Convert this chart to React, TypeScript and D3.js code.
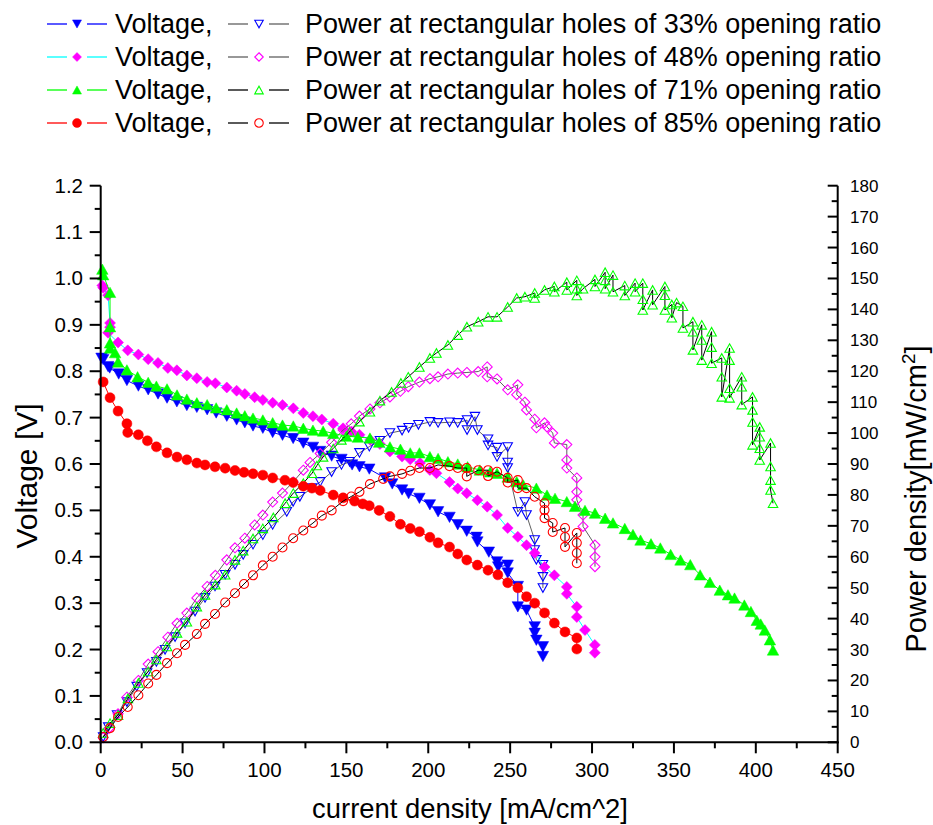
import React from "react";
import * as d3 from "d3";

type Pt = [number, number];

// Voltage (V) vs current density (mA/cm^2)
const V33: Pt[] = [[0.5,0.828],[1.5,0.825],[4.5,0.81],[5.5,0.807],[11,0.794],[16,0.78],[23,0.768],[29,0.76],[35,0.751],[40.5,0.742],[46.5,0.734],[52.6,0.726],[58.7,0.722],[65,0.717],[70.5,0.71],[77,0.703],[83,0.695],[88,0.689],[93,0.682],[99,0.677],[105,0.668],[111,0.662],[117.5,0.655],[123.7,0.645],[129.6,0.636],[134,0.627],[141,0.617],[147,0.61],[153.5,0.598],[158,0.594],[164,0.589],[173.6,0.57],[178,0.557],[184,0.544],[188,0.536],[194.6,0.526],[201,0.512],[206,0.497],[213,0.485],[218,0.469],[223.5,0.455],[229.5,0.442],[230,0.432],[237,0.41],[242,0.389],[242.7,0.378],[248.5,0.382],[248.5,0.365],[254.7,0.336],[254.7,0.292],[260,0.285],[265,0.249],[265,0.235],[266,0.22],[270,0.206],[270,0.185]];
const V48: Pt[] = [[1,0.985],[1.5,0.98],[4.5,0.964],[5.7,0.904],[5.7,0.895],[4.5,0.883],[10.6,0.862],[16.5,0.845],[23,0.836],[29,0.826],[35,0.818],[41,0.807],[46.5,0.802],[52.6,0.791],[58.7,0.785],[65,0.777],[70,0.774],[77,0.765],[83,0.758],[88,0.751],[94,0.744],[99,0.738],[105,0.732],[111,0.727],[117.6,0.72],[123.7,0.71],[129.6,0.703],[135,0.696],[142,0.687],[148,0.677],[153,0.67],[158,0.663],[164.6,0.652],[170.5,0.643],[176.6,0.627],[184,0.616],[189,0.61],[195,0.602],[201,0.587],[205,0.58],[213,0.561],[218,0.547],[223.5,0.537],[230,0.522],[236,0.508],[242,0.49],[248.5,0.462],[254.7,0.443],[260,0.425],[265,0.408],[271,0.378],[277,0.36],[284.6,0.335],[284.6,0.32],[290.7,0.292],[290.7,0.27],[295.7,0.242],[301.7,0.21],[301.7,0.193]];
const V71: Pt[] = [[1,1.02],[1.5,1.008],[5.7,0.97],[5.7,0.896],[5.7,0.861],[5.7,0.85],[8.8,0.84],[10.6,0.82],[16,0.803],[22.5,0.788],[29,0.776],[34,0.768],[40.5,0.762],[46.6,0.749],[52.6,0.74],[58.7,0.732],[65,0.728],[70.5,0.721],[77,0.717],[83,0.71],[88,0.704],[93,0.699],[99,0.695],[105,0.689],[111,0.684],[117.6,0.682],[123.7,0.677],[129.6,0.673],[135.8,0.671],[142,0.666],[150,0.66],[157,0.658],[164.4,0.656],[170,0.647],[176.6,0.637],[183,0.632],[189,0.624],[194.6,0.624],[201,0.616],[206,0.612],[212,0.605],[218,0.6],[224,0.594],[231.5,0.587],[237.8,0.583],[242,0.58],[248.5,0.572],[254,0.562],[258,0.555],[266,0.548],[272.5,0.533],[277.4,0.526],[284.6,0.519],[289.6,0.509],[295.7,0.5],[301.8,0.494],[308,0.483],[312.8,0.473],[320,0.461],[325,0.448],[329.6,0.436],[336,0.428],[341.7,0.419],[348,0.405],[354,0.393],[360,0.383],[366,0.361],[372,0.345],[378,0.328],[383,0.318],[387,0.311],[393,0.296],[397,0.282],[400.6,0.263],[403,0.255],[405.5,0.242],[408.6,0.221],[410.5,0.199]];
const V85: Pt[] = [[1.5,0.777],[5.7,0.743],[10.6,0.714],[16,0.687],[16.5,0.668],[23,0.663],[28.5,0.65],[34,0.637],[40.5,0.624],[46.6,0.615],[52.6,0.609],[58.7,0.602],[63.7,0.598],[69.8,0.594],[76,0.591],[82,0.586],[87.5,0.582],[93,0.579],[99,0.576],[105,0.57],[112.5,0.565],[117.5,0.56],[123.7,0.552],[129,0.548],[134,0.543],[142,0.533],[148,0.527],[155,0.52],[160,0.514],[164,0.51],[170,0.5],[176.6,0.487],[183,0.47],[189,0.461],[194.6,0.454],[201,0.442],[206,0.43],[213,0.421],[218,0.406],[223.5,0.393],[230,0.382],[236.5,0.371],[242.5,0.361],[248.5,0.344],[254.7,0.333],[260,0.314],[265,0.3],[271,0.279],[277,0.257],[283.5,0.238],[290.7,0.225],[290.7,0.201]];

// Power density (mW/cm^2) vs current density (mA/cm^2)
const P33: Pt[] = [[1.5,1.7],[4.6,4.9],[10,8.8],[16,13],[22,18],[28.3,22.4],[34,26],[39.3,29.9],[45.4,34],[51.5,38.5],[57.6,42.3],[63.7,46.7],[69.8,50.4],[76,54.2],[82,57.4],[87,60.6],[93,63.9],[99,67],[105,70.3],[113.6,74.5],[117.5,77.8],[121.6,79.4],[129,82.2],[134,84.2],[141,87.4],[147,89.7],[152,90.7],[158,93.6],[164,95.6],[170.5,97.5],[176.6,100],[184,100.8],[188,101.7],[194,102.7],[201,103.6],[206,103.3],[213,103.5],[218,103.3],[223.7,104.2],[223.7,101],[228.5,105.3],[230,101],[236.5,98],[236.5,96],[242,95.3],[242,92.3],[248.5,95.5],[248.5,90.5],[248.5,88.7],[254.7,74.5],[259,77.7],[260,73.5],[265,65.4],[265,62.2],[266,59],[270,57.4],[270,53.5],[270,49.9]];
const P48: Pt[] = [[1.5,1.5],[5,4.5],[10.6,9.2],[16,14.6],[23,20],[29,25.3],[35,29.3],[41,34],[46.6,38.5],[52.6,41.8],[58.7,46.7],[65,50.4],[70,54],[77,59],[82,62.9],[88,66],[94,70.3],[99,73.5],[105,77.7],[111,80.6],[117.5,84.2],[123.7,88],[127.8,90.5],[134,93.4],[141,97],[148,101],[153,103],[158,105.5],[164.4,107.8],[170.5,109.8],[176.6,111.7],[183,113.5],[187.8,115],[194.6,116.5],[201,117.6],[206,118.2],[212,119.1],[218,119.4],[223.6,119.6],[230.5,119.9],[236,121.4],[236,118.2],[242,117.5],[248.5,114],[254.7,115.6],[254,112.4],[259,110],[260,107.5],[265,104.5],[266,101.7],[271,103.3],[272.5,102],[276,100],[277,96.8],[284.6,96.3],[284.6,91.3],[284.6,88.7],[290.7,85.5],[290.7,81],[290.7,78.4],[294.5,73.5],[294.5,69.8],[301.8,63.8],[301.8,60],[301.8,56.8]];
const P71: Pt[] = [[1.5,3],[5.7,6.2],[10.6,8.8],[16.6,14.2],[23,19.2],[29,22.9],[34,26.8],[40.5,31],[46.6,35.4],[52.6,39],[58.7,43.9],[63.7,47.7],[70,51],[76,54.2],[82,59],[87,62],[93,65.9],[99,69.2],[105.4,72.7],[112.6,77.3],[117.6,80.6],[123.7,83.8],[129,87],[132,89.5],[135.8,92.3],[142,95],[147,97.8],[152,100.4],[158,103.7],[164.4,106.9],[170.5,110.5],[177.6,113.3],[183.3,116.2],[187.8,118.2],[194.6,121.4],[201,124.3],[205,125.9],[212,128.5],[218,131.7],[223.6,134.4],[230.5,136],[236.5,137.6],[242,137.6],[248.5,140.8],[254,143.7],[259,144.1],[265,145.3],[265,143.7],[271,146.3],[277,147.4],[277,145.7],[284.6,148.8],[284.6,146.3],[290.7,149.4],[290.7,146.7],[290.7,144.5],[294.5,146.7],[301.8,149.7],[301.8,147.4],[308,152],[308,149.4],[308,146.7],[312.8,151.1],[312.8,145.7],[320,147.7],[320,144.5],[326.3,148.5],[326.3,145.7],[331,148.5],[331,143.3],[331,139.8],[337,146.3],[337,141.5],[344.5,147.4],[344.5,144.6],[344.5,139.8],[348.7,141.6],[348.7,137.3],[351.6,142.2],[355.5,141],[355.5,134],[361.6,136],[361.6,132.8],[361.6,126.9],[367,135],[367,130.1],[367,123.6],[373,132.8],[373,127.8],[373,122.6],[379.2,124.3],[379.2,118.2],[379.2,111.7],[384,127.5],[384,123.6],[384,114.5],[384,111.4],[391.4,118.2],[391.4,115],[391.4,109.2],[398,111.7],[398,107.5],[398,103.6],[398,96.2],[402.4,102],[402.4,98.8],[402.4,95.1],[402.4,91.3],[409,96.8],[409,89.2],[409,84.8],[409,81.6],[410.5,77.3]];
const P85: Pt[] = [[1.5,1.7],[5.7,4.6],[10.6,8.2],[16.5,11.4],[23,15.2],[29,19],[34,21.8],[40.5,25.6],[46.6,28.8],[51.5,31.5],[58.7,35],[63.7,38.3],[69.8,41.5],[76,45.2],[82,48.2],[87.5,51.2],[93,54],[99,57.2],[105,60],[111,63],[117.5,66],[123.7,68.5],[129.6,70.9],[135,73.3],[141,75],[148,78],[153,79.5],[158,81],[164.4,83.5],[172.5,85.2],[176.6,86],[184,86.8],[189,87.8],[194.6,88.7],[201,88.7],[206,89.7],[213,89.3],[218,88.7],[223.5,88.7],[223.5,86],[230.5,88],[236.5,88],[236.5,86.1],[242,87.5],[248.5,85.5],[248.5,84],[254.7,84.8],[254.7,82.2],[260,82.2],[265,79.4],[271,77.3],[271,75.1],[271,72.5],[276,70.9],[276,68],[283.5,69.3],[283.5,66.4],[283.5,63.2],[290.7,67.7],[290.7,64.5],[290.7,61.2],[290.7,57.9]];

const openingRatios = ["33%", "48%", "71%", "85%"];
const xTickValues = [0, 50, 100, 150, 200, 250, 300, 350, 400, 450];
const vTickValues = [0, 0.1, 0.2, 0.3, 0.4, 0.5, 0.6, 0.7, 0.8, 0.9, 1.0, 1.1, 1.2];
const pTickValues = [0, 10, 20, 30, 40, 50, 60, 70, 80, 90, 100, 110, 120, 130, 140, 150, 160, 170, 180];

type Shape = "down" | "diamond" | "up" | "circle";

function markerPath(shape: Shape, s: number): string {
  const h = s / 2;
  if (shape === "down") {
    const t = s * 0.45;
    return `M${-h},${-t}L${h},${-t}L0,${t}Z`;
  }
  if (shape === "up") {
    const t = s * 0.45;
    return `M${-h},${t}L${h},${t}L0,${-t}Z`;
  }
  if (shape === "diamond") {
    return `M0,${-h}L${h},0L0,${h}L${-h},0Z`;
  }
  return `M${h},0A${h},${h} 0 1,1 ${-h},0A${h},${h} 0 1,1 ${h},0Z`;
}

const FONT = "'Liberation Sans', Arial, Helvetica, sans-serif";

export default function App() {
  const L = 100.7, R = 837.7, T = 185.7, B = 742.3;
  const x = d3.scaleLinear().domain([0, 450]).range([L, R]);
  const yV = d3.scaleLinear().domain([0, 1.2]).range([B, T]);
  const yP = d3.scaleLinear().domain([0, 180]).range([B, T]);

  const series = [
    { data: V33, y: yV, shape: "down" as Shape, filled: true, size: 11.5, color: "#0000ff", line: "#0000ff" },
    { data: P33, y: yP, shape: "down" as Shape, filled: false, size: 9.5, color: "#0000ff", line: "#606060" },
    { data: V48, y: yV, shape: "diamond" as Shape, filled: true, size: 11, color: "#ff00ff", line: "#00ffff" },
    { data: P48, y: yP, shape: "diamond" as Shape, filled: false, size: 10, color: "#ff00ff", line: "#606060" },
    { data: V71, y: yV, shape: "up" as Shape, filled: true, size: 11.5, color: "#00ff00", line: "#00ff00" },
    { data: P71, y: yP, shape: "up" as Shape, filled: false, size: 9.5, color: "#00ff00", line: "#000000" },
    { data: V85, y: yV, shape: "circle" as Shape, filled: true, size: 10, color: "#ff0000", line: "#ff0000" },
    { data: P85, y: yP, shape: "circle" as Shape, filled: false, size: 9, color: "#ff0000", line: "#000000" },
  ];

  const xMinor = d3.range(25, 450, 50);
  const vMinor = d3.range(0, 12).map((i) => i / 10 + 0.05);
  const pMinor = d3.range(0, 18).map((i) => i * 10 + 5);

  const legendRows = [0, 1, 2, 3].map((i) => ({
    v: series[i * 2],
    p: series[i * 2 + 1],
    y: 24 + i * 33,
    label: `Power at rectangular holes of ${openingRatios[i]} opening ratio`,
  }));

  return (
    <svg width={933} height={825} style={{ display: "block", position: "absolute", left: 0, top: 0 }} fontFamily={FONT}>
      <rect x={0} y={0} width={933} height={825} fill="#fff" />
      {/* series */}
      {series.map((s, si) => {
        const line = d3.line<Pt>().x((d) => x(d[0])).y((d) => s.y(d[1]));
        return (
          <g key={si}>
            <path d={line(s.data) || ""} fill="none" stroke={s.line} strokeWidth={1} />
            {s.data.map((d, i) => (
              <path
                key={i}
                d={markerPath(s.shape, s.size)}
                transform={`translate(${x(d[0])},${s.y(d[1])})`}
                fill={s.filled ? s.color : "none"}
                stroke={s.color}
                strokeWidth={s.filled ? 0.5 : 1.1}
              />
            ))}
          </g>
        );
      })}
      {/* axes */}
      <g stroke="#000" strokeWidth={2} fill="none">
        <line x1={L} y1={T} x2={L} y2={B + 1} />
        <line x1={L - 1} y1={B} x2={R + 1} y2={B} />
        <line x1={R} y1={T} x2={R} y2={B + 1} />
        {xTickValues.map((v) => (
          <line key={"xt" + v} x1={x(v)} y1={B} x2={x(v)} y2={B + 11} />
        ))}
        {xMinor.map((v) => (
          <line key={"xm" + v} x1={x(v)} y1={B} x2={x(v)} y2={B + 6} />
        ))}
        {vTickValues.map((v) => (
          <line key={"vt" + v} x1={L} y1={yV(v)} x2={L - 11} y2={yV(v)} />
        ))}
        {vMinor.map((v) => (
          <line key={"vm" + v} x1={L} y1={yV(v)} x2={L - 6} y2={yV(v)} />
        ))}
        {pTickValues.map((v) => (
          <line key={"pt" + v} x1={R} y1={yP(v)} x2={R - 10} y2={yP(v)} />
        ))}
        {pMinor.map((v) => (
          <line key={"pm" + v} x1={R} y1={yP(v)} x2={R - 6} y2={yP(v)} />
        ))}
      </g>
      <g fontSize={20.5} fill="#000">
        {xTickValues.map((v) => (
          <text key={"xl" + v} x={x(v)} y={777} textAnchor="middle">{v}</text>
        ))}
        {vTickValues.map((v) => (
          <text key={"vl" + v} x={83} y={yV(v) + 7} textAnchor="end">{d3.format(".1f")(v)}</text>
        ))}
      </g>
      <g fontSize={17} fill="#000">
        {pTickValues.map((v) => (
          <text key={"pl" + v} x={850} y={yP(v) + 6} textAnchor="start">{v}</text>
        ))}
      </g>
      {/* axis titles */}
      <text x={470} y={818} fontSize={27.4} textAnchor="middle">current density [mA/cm^2]</text>
      <text transform="translate(37,476) rotate(-90)" fontSize={30} textAnchor="middle">Voltage [V]</text>
      <text transform="translate(926,499) rotate(-90)" fontSize={29} textAnchor="middle">
        Power density[mW/cm<tspan dy={-11} fontSize={19}>2</tspan><tspan dy={11}>]</tspan>
      </text>
      {/* legend */}
      {legendRows.map((r, i) => (
        <g key={"lg" + i}>
          <line x1={47} y1={r.y} x2={67} y2={r.y} stroke={r.v.line} strokeWidth={1.3} />
          <line x1={87} y1={r.y} x2={107} y2={r.y} stroke={r.v.line} strokeWidth={1.3} />
          <path d={markerPath(r.v.shape, 9)} transform={`translate(77,${r.y})`} fill={r.v.color} stroke={r.v.color} strokeWidth={0.5} />
          <text x={115} y={r.y + 9} fontSize={27}>Voltage,</text>
          <line x1={228} y1={r.y} x2={248} y2={r.y} stroke={r.p.line} strokeWidth={1.3} />
          <line x1={269} y1={r.y} x2={289} y2={r.y} stroke={r.p.line} strokeWidth={1.3} />
          <path d={markerPath(r.p.shape, 8.5)} transform={`translate(259,${r.y})`} fill="#fff" stroke={r.p.color} strokeWidth={1.1} />
          <text x={305} y={r.y + 9} fontSize={27}>{r.label}</text>
        </g>
      ))}
    </svg>
  );
}
